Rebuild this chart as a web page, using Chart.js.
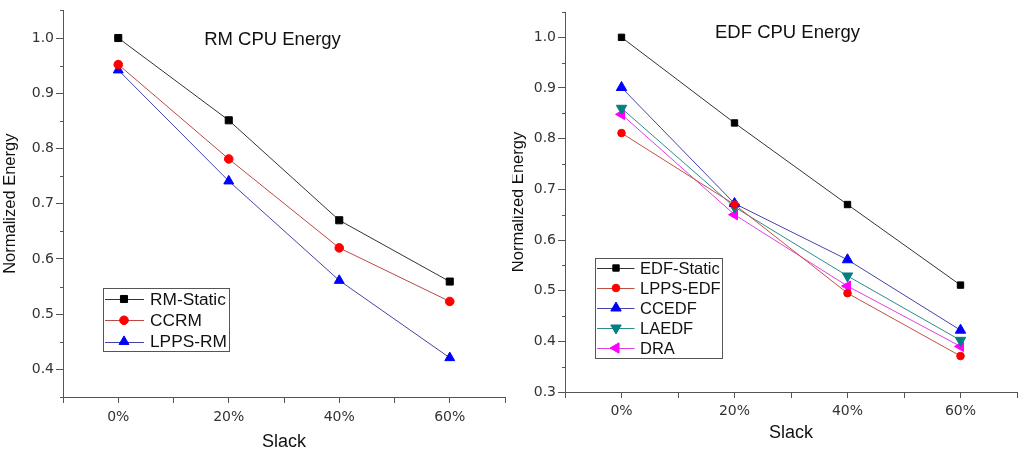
<!DOCTYPE html>
<html><head><meta charset="utf-8">
<script src="https://cdn.jsdelivr.net/npm/chart.js@4"></script>
<style>
html,body{margin:0;padding:0;background:#fff;width:1024px;height:454px;overflow:hidden}
.wrap{position:absolute;top:0;width:512px;height:454px}
</style></head><body>
<div class="wrap" style="left:0"><canvas id="c1" width="512" height="454"></canvas></div>
<div class="wrap" style="left:512px"><canvas id="c2" width="512" height="454"></canvas></div>
<script>
// ---- data ----
const slackLabels = ['0%', '20%', '40%', '60%'];
const rmYTickLabels = ['0.4', '0.5', '0.6', '0.7', '0.8', '0.9', '1.0'];
const edfYTickLabels = ['0.3', '0.4', '0.5', '0.6', '0.7', '0.8', '0.9', '1.0'];

const rmStatic = [1.000, 0.851, 0.670, 0.559];
const ccrm     = [0.952, 0.781, 0.620, 0.523];
const lppsRm   = [0.942, 0.741, 0.561, 0.421];

const edfStatic = [1.000, 0.831, 0.670, 0.511];
const lppsEdf   = [0.811, 0.670, 0.495, 0.371];
const ccedf     = [0.901, 0.672, 0.561, 0.422];
const laedf     = [0.860, 0.665, 0.529, 0.402];
const dra       = [0.848, 0.650, 0.509, 0.390];

const pts = arr => arr.map((v, i) => ({x: i, y: v}));
const isMajorY = v => Math.abs(v * 10 - Math.round(v * 10)) < 1e-6;

function ds(label, values, line, marker, style, radius, rotation) {
  return {
    label, data: pts(values), borderColor: line, borderWidth: 1,
    pointStyle: style, pointRadius: radius, pointHoverRadius: radius,
    pointRotation: rotation || 0, pointBackgroundColor: marker,
    pointBorderColor: marker, pointBorderWidth: 1, tension: 0, fill: false
  };
}

// ---- plugins ----
const boxTitle = {
  id: 'boxTitle',
  afterDraw(chart, args, o) {
    const ctx = chart.ctx;
    ctx.save();
    ctx.font = o.size + 'px "Liberation Sans", Arial, sans-serif';
    ctx.fillStyle = '#111';
    ctx.textAlign = 'center';
    ctx.textBaseline = 'middle';
    ctx.fillText(o.text, o.x, o.y);
    ctx.restore();
  }
};

const boxLegend = {
  id: 'boxLegend',
  afterDraw(chart, args, o) {
    const ctx = chart.ctx;
    ctx.save();
    ctx.fillStyle = '#fff';
    ctx.fillRect(o.x, o.y, o.w, o.h);
    ctx.strokeStyle = '#555';
    ctx.lineWidth = 1;
    ctx.strokeRect(Math.round(o.x) + 0.5, Math.round(o.y) + 0.5, o.w, o.h);
    chart.data.datasets.forEach((d, i) => {
      const y = o.y + o.first + i * o.step;
      ctx.strokeStyle = d.borderColor;
      ctx.lineWidth = 1;
      ctx.beginPath();
      ctx.moveTo(o.x + o.l0, Math.round(y) + 0.5);
      ctx.lineTo(o.x + o.l1, Math.round(y) + 0.5);
      ctx.stroke();
      ctx.fillStyle = d.pointBackgroundColor;
      ctx.strokeStyle = d.pointBorderColor;
      Chart.helpers.drawPoint(ctx, {pointStyle: d.pointStyle, radius: d.pointRadius,
        rotation: d.pointRotation, borderWidth: 1}, o.x + o.mx, y);
      ctx.fillStyle = '#111';
      ctx.font = o.size + 'px "Liberation Sans", Arial, sans-serif';
      ctx.textAlign = 'left';
      ctx.textBaseline = 'middle';
      ctx.fillText(d.label, o.x + o.tx, y + 1);
    });
    ctx.restore();
  }
};

const minorTicks = {
  id: 'minorTicks',
  afterDraw(chart, args, o) {
    const s = chart.scales.y, ctx = chart.ctx;
    ctx.save();
    ctx.strokeStyle = '#555';
    ctx.lineWidth = 1;
    ctx.beginPath();
    s.ticks.forEach(t => {
      if (!isMajorY(t.value)) {
        const py = Math.round(s.getPixelForValue(t.value)) + 0.5;
        ctx.moveTo(s.right - o.len, py);
        ctx.lineTo(s.right, py);
      }
    });
    ctx.stroke();
    ctx.restore();
  }
};

function makeChart(id, datasets, c) {
  return new Chart(document.getElementById(id), {
    type: 'line',
    data: {datasets},
    plugins: [boxTitle, boxLegend, minorTicks],
    options: {
      responsive: false, animation: false, events: [],
      layout: {padding: {top: c.padTop, right: c.padRight, left: 0, bottom: 0}},
      plugins: {
        legend: {display: false}, tooltip: {enabled: false},
        boxTitle: c.title, boxLegend: c.legend, minorTicks: {len: 3}
      },
      scales: {
        x: {
          type: 'linear', min: -0.5, max: 3.5,
          afterFit(s) { s.height = c.xHeight; },
          border: {color: '#555', width: 1},
          grid: {drawOnChartArea: false, tickLength: 6, tickColor: '#555'},
          ticks: {
            stepSize: 0.5, autoSkip: false, maxRotation: 0, padding: c.xPad,
            color: '#333', font: {family: 'DejaVu Sans', size: 14},
            callback: v => Number.isInteger(v) ? (slackLabels[v] || '') : ''
          },
          title: {display: true, text: 'Slack', color: '#111',
            font: {family: 'Liberation Sans', size: 18},
            padding: {top: 0, bottom: c.xTitlePad}}
        },
        y: {
          min: c.yMin, max: c.yMax,
          afterFit(s) { s.width = c.yWidth; },
          border: {color: '#555', width: 1},
          grid: {drawOnChartArea: false, tickLength: 7,
            tickColor: t => (t.tick && isMajorY(t.tick.value)) ? '#555' : 'rgba(0,0,0,0)'},
          ticks: {
            stepSize: 0.05, autoSkip: false, padding: 2,
            color: '#333', font: {family: 'DejaVu Sans', size: 14},
            callback: v => {
              if (!isMajorY(v)) return '';
              const s = v.toFixed(1);
              return c.yLabels.includes(s) ? s : '';
            }
          },
          title: {display: true, text: 'Normalized Energy', color: '#111',
            font: {family: 'Liberation Sans', size: 16.5, lineHeight: c.yTitleLH},
            padding: {top: c.yTitlePad, bottom: 0}}
        }
      }
    }
  });
}

makeChart('c1', [
  ds('RM-Static', rmStatic, '#333333', '#000000', 'rect', 5),
  ds('CCRM', ccrm, '#b84a48', '#ff0000', 'circle', 4.3),
  ds('LPPS-RM', lppsRm, '#4444a8', '#0000ff', 'triangle', 5.7)
], {
  padTop: 8, padRight: 7, yWidth: 63, xHeight: 57, xPad: 6, xTitlePad: 1,
  yMin: 0.35, yMax: 1.05, yLabels: rmYTickLabels, yTitleLH: 1.2, yTitlePad: 1,
  title: {text: 'RM CPU Energy', x: 272.5, y: 40, size: 18.5},
  legend: {x: 103, y: 288, w: 126, h: 63, first: 11, step: 21.3, l0: 2, l1: 41, mx: 21, tx: 47, size: 17.3}
});

makeChart('c2', [
  ds('EDF-Static', edfStatic, '#333333', '#000000', 'rect', 4.5),
  ds('LPPS-EDF', lppsEdf, '#c05244', '#ff0000', 'circle', 3.8),
  ds('CCEDF', ccedf, '#4444a8', '#0000ff', 'triangle', 6),
  ds('LAEDF', laedf, '#2a8c8c', '#008080', 'triangle', 6, 180),
  ds('DRA', dra, '#e040e0', '#ff00ff', 'triangle', 6, 270)
], {
  padTop: 12, padRight: 5, yWidth: 53, xHeight: 62, xPad: 5, xTitlePad: 10,
  yMin: 0.3, yMax: 1.05, yLabels: edfYTickLabels, yTitleLH: 0.8, yTitlePad: 0,
  title: {text: 'EDF CPU Energy', x: 275.5, y: 32.5, size: 18.5},
  legend: {x: 83, y: 258, w: 127, h: 100, first: 10, step: 20, l0: 2, l1: 39.5, mx: 21, tx: 45, size: 16.5}
});
</script>
</body></html>
